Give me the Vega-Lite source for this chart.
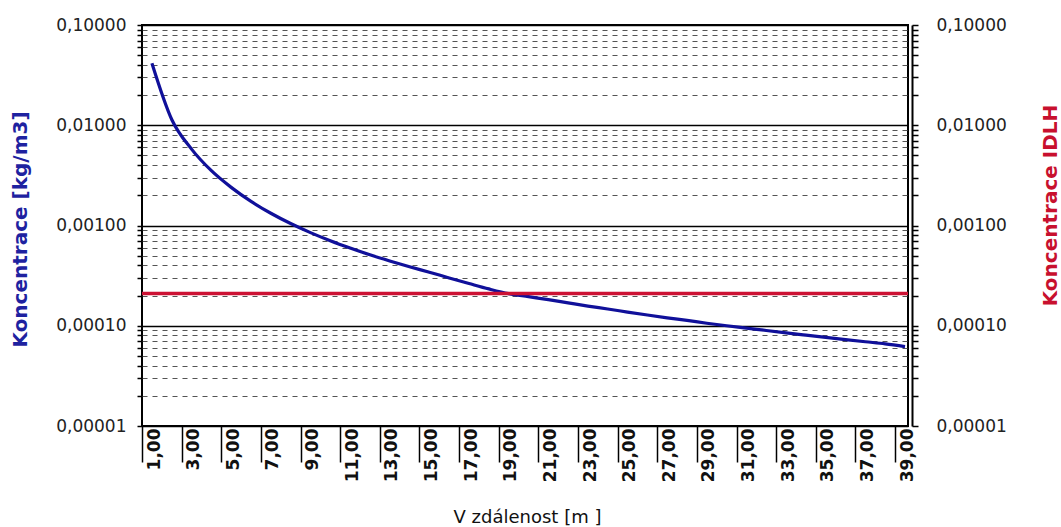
{
  "$schema": "https://vega.github.io/schema/vega-lite/v6.json",
  "width": 766,
  "height": 401,
  "autosize": {"type": "none"},
  "padding": {"left": 142, "top": 25, "right": 153, "bottom": 101},
  "background": "white",
  "config": {
    "font": "DejaVu Sans",
    "view": {"stroke": "black", "strokeWidth": 2}
  },
  "layer": [
    {
      "data": {"values": [
        {"x": 1, "c": 0.0415}, {"x": 2, "c": 0.0114}, {"x": 3, "c": 0.00578}, {"x": 4, "c": 0.00352},
        {"x": 5, "c": 0.0024}, {"x": 6, "c": 0.00174}, {"x": 7, "c": 0.001325}, {"x": 8, "c": 0.001046},
        {"x": 9, "c": 0.000849}, {"x": 10, "c": 0.000705}, {"x": 11, "c": 0.000596}, {"x": 12, "c": 0.00051},
        {"x": 13, "c": 0.000443}, {"x": 14, "c": 0.000388}, {"x": 15, "c": 0.000342}, {"x": 16, "c": 0.0003},
        {"x": 17, "c": 0.000264}, {"x": 18, "c": 0.000233}, {"x": 19, "c": 0.000209}, {"x": 20, "c": 0.000195},
        {"x": 21, "c": 0.000182}, {"x": 22, "c": 0.000169}, {"x": 23, "c": 0.000157}, {"x": 24, "c": 0.000147},
        {"x": 25, "c": 0.000137}, {"x": 26, "c": 0.000128}, {"x": 27, "c": 0.00012}, {"x": 28, "c": 0.000113},
        {"x": 29, "c": 0.000106}, {"x": 30, "c": 0.0001}, {"x": 31, "c": 0.0000948}, {"x": 32, "c": 0.0000897},
        {"x": 33, "c": 0.000085}, {"x": 34, "c": 0.0000806}, {"x": 35, "c": 0.0000765}, {"x": 36, "c": 0.0000727},
        {"x": 37, "c": 0.0000692}, {"x": 38, "c": 0.000066}, {"x": 39, "c": 0.000062}
      ]},
      "mark": {"type": "line", "color": "#10109a", "strokeWidth": 3.2, "interpolate": "monotone", "clip": true},
      "encoding": {
        "x": {
          "field": "x", "type": "quantitative",
          "scale": {"domain": [0.5, 39.15], "nice": false, "zero": false},
          "axis": {
            "values": [1, 3, 5, 7, 9, 11, 13, 15, 17, 19, 21, 23, 25, 27, 29, 31, 33, 35, 37, 39],
            "labelExpr": "replace(format(datum.value, '.2f'), '.', ',')",
            "labelAngle": 270,
            "labelAlign": "right",
            "labelBaseline": "middle",
            "labelFont": "DejaVu Sans",
            "labelFontSize": 17,
            "labelFontWeight": "bold",
            "labelColor": "#111111",
            "labelPadding": -34,
            "labelOffset": 12,
            "labelOverlap": false,
            "labelFlush": false,
            "labelBound": false,
            "tickOffset": -9.9,
            "tickSize": 36,
            "tickWidth": 1.5,
            "tickColor": "black",
            "domain": false,
            "grid": false,
            "title": "V zdálenost [m ]",
            "titleFont": "DejaVu Sans",
            "titleFontSize": 18,
            "titleFontWeight": "normal",
            "titleColor": "#111111",
            "titleX": 385,
            "titleY": 91,
            "titleBaseline": "middle",
            "titleAlign": "center"
          }
        },
        "y": {
          "field": "c", "type": "quantitative",
          "scale": {"type": "log", "domain": [0.00001, 0.1], "nice": false},
          "axis": {
            "orient": "left",
            "values": [0.00001, 0.00002, 0.00003, 0.00004, 0.00005, 0.00006, 0.00007, 0.00008, 0.00009,
                       0.0001, 0.0002, 0.0003, 0.0004, 0.0005, 0.0006, 0.0007, 0.0008, 0.0009,
                       0.001, 0.002, 0.003, 0.004, 0.005, 0.006, 0.007, 0.008, 0.009,
                       0.01, 0.02, 0.03, 0.04, 0.05, 0.06, 0.07, 0.08, 0.09, 0.1],
            "labelExpr": "abs(log(datum.value)/LN10 - round(log(datum.value)/LN10)) < 0.01 ? replace(format(datum.value, '.5f'), '.', ',') : ''",
            "labelFont": "DejaVu Sans",
            "labelFontSize": 17,
            "labelColor": "#222222",
            "labelPadding": 11,
            "labelOverlap": false,
            "labelFlush": false,
            "labelBound": false,
            "tickSize": 5,
            "tickWidth": 1.5,
            "tickColor": "black",
            "domain": false,
            "grid": true,
            "gridColor": {"condition": {"test": "abs(log(datum.value)/LN10 - round(log(datum.value)/LN10)) < 0.01", "value": "black"}, "value": "#555555"},
            "gridWidth": {"condition": {"test": "abs(log(datum.value)/LN10 - round(log(datum.value)/LN10)) < 0.01", "value": 1.5}, "value": 1.2},
            "gridDash": {"condition": {"test": "abs(log(datum.value)/LN10 - round(log(datum.value)/LN10)) < 0.01", "value": []}, "value": [5, 5]},
            "title": "Koncentrace [kg/m3]",
            "titleFont": "DejaVu Sans",
            "titleFontSize": 20,
            "titleFontWeight": "bold",
            "titleColor": "#1e22a0",
            "titleAngle": 270,
            "titleX": -122,
            "titleY": 204,
            "titleAlign": "center",
            "titleBaseline": "middle"
          }
        }
      }
    },
    {
      "data": {"values": [{"idlh": 0.00021}]},
      "mark": {"type": "rule", "color": "#cc1133", "strokeWidth": 3.5},
      "encoding": {
        "y": {
          "field": "idlh", "type": "quantitative",
          "scale": {"type": "log", "domain": [0.00001, 0.1], "nice": false},
          "axis": {
            "orient": "right",
            "values": [0.00001, 0.00002, 0.00003, 0.00004, 0.00005, 0.00006, 0.00007, 0.00008, 0.00009,
                       0.0001, 0.0002, 0.0003, 0.0004, 0.0005, 0.0006, 0.0007, 0.0008, 0.0009,
                       0.001, 0.002, 0.003, 0.004, 0.005, 0.006, 0.007, 0.008, 0.009,
                       0.01, 0.02, 0.03, 0.04, 0.05, 0.06, 0.07, 0.08, 0.09, 0.1],
            "labelExpr": "abs(log(datum.value)/LN10 - round(log(datum.value)/LN10)) < 0.01 ? replace(format(datum.value, '.5f'), '.', ',') : ''",
            "labelFont": "DejaVu Sans",
            "labelFontSize": 17,
            "labelColor": "#222222",
            "labelPadding": 18,
            "labelOverlap": false,
            "labelFlush": false,
            "labelBound": false,
            "tickSize": 6,
            "tickWidth": 1.5,
            "tickColor": "black",
            "domain": true,
            "domainColor": "black",
            "domainWidth": 2,
            "offset": 4,
            "grid": false,
            "title": "Koncentrace IDLH",
            "titleFont": "DejaVu Sans",
            "titleFontSize": 20,
            "titleFontWeight": "bold",
            "titleColor": "#c8102e",
            "titleAngle": 270,
            "titleX": 138,
            "titleY": 180,
            "titleAlign": "center",
            "titleBaseline": "middle"
          }
        }
      }
    }
  ],
  "resolve": {"scale": {"y": "independent"}}
}
